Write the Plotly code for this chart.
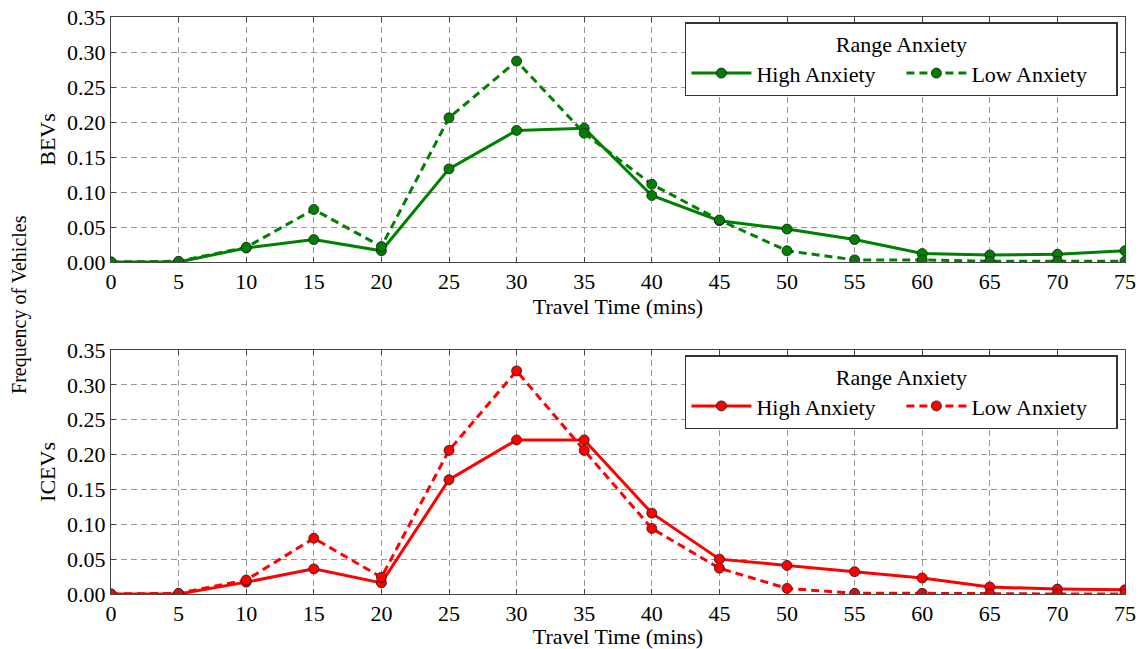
import plotly.graph_objects as go
from plotly.subplots import make_subplots

travel_time = [0, 5, 10, 15, 20, 25, 30, 35, 40, 45, 50, 55, 60, 65, 70, 75]

bev_high = [0.000, 0.000, 0.020, 0.032, 0.016, 0.133, 0.188, 0.191, 0.095, 0.059,
            0.047, 0.032, 0.012, 0.010, 0.011, 0.016]
bev_low = [0.000, 0.001, 0.021, 0.075, 0.022, 0.206, 0.287, 0.184, 0.111, 0.060,
           0.016, 0.003, 0.003, 0.001, 0.001, 0.001]

icev_high = [0.000, 0.000, 0.017, 0.036, 0.016, 0.164, 0.221, 0.221, 0.116, 0.050,
             0.041, 0.032, 0.023, 0.010, 0.007, 0.006]
icev_low = [0.000, 0.001, 0.020, 0.080, 0.024, 0.206, 0.320, 0.206, 0.094, 0.037,
            0.008, 0.001, 0.001, 0.000, 0.000, 0.000]

x_ticks = list(range(0, 80, 5))
y_ticks = [0.00, 0.05, 0.10, 0.15, 0.20, 0.25, 0.30, 0.35]
y_tick_text = [f"{v:.2f}" for v in y_ticks]

GREEN = "#008000"
RED = "#ff0000"
FONT = "Liberation Serif"
FS = 22

fig = make_subplots(rows=2, cols=1, vertical_spacing=0.0)

def add(y, color, dash, name, row, legend):
    fig.add_trace(go.Scatter(
        x=travel_time, y=y, mode="lines+markers", name=name,
        line=dict(color=color, width=3, dash=dash),
        marker=dict(symbol="circle", size=10, color=color,
                    line=dict(color="#1a1a1a", width=0.8)),
        legend=legend,
    ), row=row, col=1)

add(bev_high, GREEN, "solid", "High Anxiety", 1, "legend")
add(bev_low, GREEN, "8px,5px", "Low Anxiety", 1, "legend")
add(icev_high, RED, "solid", "High Anxiety", 2, "legend2")
add(icev_low, RED, "8px,5px", "Low Anxiety", 2, "legend2")

axis_common = dict(
    showline=True, linecolor="#444", linewidth=1, mirror="ticks",
    ticks="inside", ticklen=5, tickcolor="#444",
    showgrid=True, gridcolor="#999", gridwidth=1, griddash="6px,4px",
    zeroline=False, automargin=False,
    tickfont=dict(family=FONT, size=FS, color="black"),
)

for r, dom in [(1, [0.5754, 1.0]), (2, [0.0, 0.4229])]:
    fig.update_xaxes(range=[0, 75], tickvals=x_ticks, **axis_common,
                     title=dict(text="Travel Time (mins)", standoff=0,
                                font=dict(family=FONT, size=FS, color="black")),
                     row=r, col=1)
    fig.update_yaxes(range=[0, 0.35], tickvals=y_ticks, ticktext=y_tick_text,
                     domain=dom, **axis_common,
                     title=dict(text="BEVs" if r == 1 else "ICEVs", standoff=5,
                                font=dict(family=FONT, size=FS, color="black")),
                     row=r, col=1)

legend_common = dict(
    orientation="h", xanchor="right", x=0.993, yanchor="top",
    bgcolor="white", bordercolor="#333", borderwidth=1.5,
    font=dict(family=FONT, size=FS, color="black"),
    title=dict(text="Range Anxiety", side="top center",
               font=dict(family=FONT, size=FS, color="black")),
    itemwidth=60, entrywidth=140,
)

fig.update_layout(
    width=1139, height=649,
    margin=dict(l=111, r=14, t=17, b=55, autoexpand=False),
    plot_bgcolor="white", paper_bgcolor="white",
    font=dict(family=FONT, size=FS, color="black"),
    legend=dict(**legend_common, y=0.991),
    legend2=dict(**legend_common, y=0.4142),
    annotations=[dict(
        text="Frequency of Vehicles", textangle=-90, xref="paper", yref="paper",
        x=-0.0897, y=0.501, xanchor="center", yanchor="middle", showarrow=False,
        font=dict(family=FONT, size=20, color="black"),
    )],
)

fig.write_html(
    "out.html",
    config={"displayModeBar": False},
    post_script="document.body.style.margin='0';document.body.style.overflow='hidden';",
)
